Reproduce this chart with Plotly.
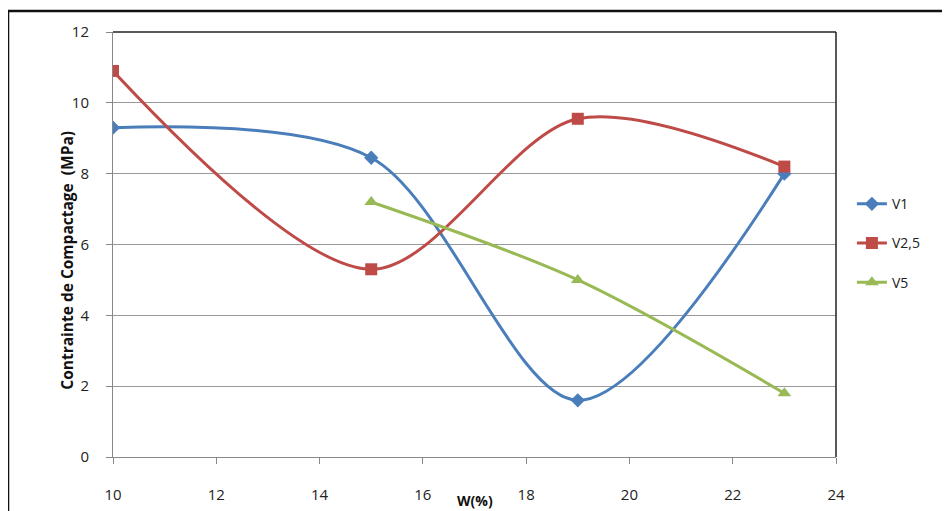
import plotly.graph_objects as go

w_v1 = [10, 15, 19, 23]
v1 = [9.3, 8.45, 1.6, 8.0]
w_v25 = [10, 15, 19, 23]
v25 = [10.9, 5.3, 9.55, 8.2]
w_v5 = [15, 19, 23]
v5 = [7.2, 5.0, 1.8]

x_ticks = [10, 12, 14, 16, 18, 20, 22, 24]
y_ticks = [0, 2, 4, 6, 8, 10, 12]

fig = go.Figure()
fig.add_trace(go.Scatter(x=w_v1, y=v1, name="V1", mode="lines+markers", legendgroup="a",
                         line=dict(color="#4A7EBB", width=3, shape="spline", smoothing=0.9),
                         marker=dict(symbol="diamond", size=11, color="#4A7EBB")))
fig.add_trace(go.Scatter(x=w_v25, y=v25, name="V2,5", mode="lines+markers", legendgroup="b",
                         line=dict(color="#BE4B48", width=3, shape="spline", smoothing=0.9),
                         marker=dict(symbol="square", size=12, color="#BE4B48")))
fig.add_trace(go.Scatter(x=w_v5, y=v5, name="V5", mode="lines+markers", legendgroup="c",
                         line=dict(color="#98B954", width=3, shape="spline", smoothing=0.9),
                         marker=dict(symbol="triangle-up", size=12, color="#98B954")))

font = "Open Sans, Liberation Sans, sans-serif"
fig.update_layout(
    width=942, height=503,
    margin=dict(l=105, r=114, t=24, b=54),
    paper_bgcolor="white", plot_bgcolor="white",
    font=dict(family=font, size=15, color="#222"),
    showlegend=True,
    legend=dict(x=1.022, y=0.503, xanchor="left", yanchor="middle",
                font=dict(size=14, color="#222"), tracegroupgap=18,
                bgcolor="rgba(0,0,0,0)"),
    xaxis=dict(range=[10, 24], tickvals=x_ticks, ticks="outside", ticklen=6,
               tickcolor="#888", showgrid=False, showline=True, linecolor="#888",
               linewidth=1, zeroline=False, fixedrange=True, ticklabelstandoff=18,
               automargin=False),
    yaxis=dict(range=[0, 12], tickvals=y_ticks, ticks="outside", ticklen=6,
               tickcolor="#888", showgrid=True, gridcolor="#999", gridwidth=1,
               showline=True, linecolor="#888", linewidth=1, zeroline=False,
               ticklabelstandoff=14, automargin=False),
    shapes=[
        dict(type="line", xref="paper", yref="paper", x0=0, x1=1, y0=1, y1=1,
             line=dict(color="#222", width=1.5)),
        dict(type="line", xref="paper", yref="paper", x0=1, x1=1, y0=0, y1=1,
             line=dict(color="#222", width=1.5)),
        dict(type="rect", xref="paper", yref="paper", x0=-0.1452, x1=1.1535,
             y0=-0.2, y1=1.0494, line=dict(color="#111", width=2.5),
             fillcolor="rgba(0,0,0,0)", layer="below"),
    ],
    annotations=[
        dict(text="<b>Contrainte de Compactage  (MPa)</b>", xref="paper", yref="paper",
             x=-0.082, y=0.4635, textangle=-90, showarrow=False,
             font=dict(size=15.5, color="#111")),
        dict(text="<b>W(%)</b>", xref="paper", yref="paper",
             x=0.5, y=-0.102, yanchor="middle", showarrow=False,
             font=dict(size=14, color="#111")),
    ],
)

fig.write_html("out.html")
